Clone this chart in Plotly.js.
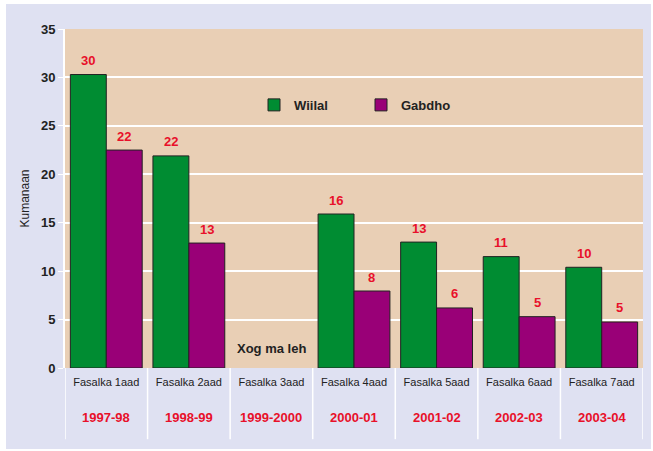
<!DOCTYPE html>
<html><head><meta charset="utf-8">
<script src="https://cdn.plot.ly/plotly-3.0.1.min.js"></script>
<style>html,body{margin:0;padding:0;background:#fff;}#chart{position:absolute;left:6px;top:4px;width:645px;height:445px;}</style>
</head><body><div id="chart"></div>
<script>
var phases = ["Fasalka 1aad","Fasalka 2aad","Fasalka 3aad","Fasalka 4aad","Fasalka 5aad","Fasalka 6aad","Fasalka 7aad"];
var years = ["1997-98","1998-99","1999-2000","2000-01","2001-02","2002-03","2003-04"];
var wiilal = [30.3, 21.9, null, 15.9, 13.0, 11.5, 10.4];
var gabdho = [22.5, 12.9, null, 7.95, 6.2, 5.3, 4.75];
var wiilalLabels = ["30","22","","16","13","11","10"];
var gabdhoLabels = ["22","13","","8","6","5","5"];
var noDataIndex = 2;
var noDataText = "Xog ma leh";

var xs = phases.map(function(_, i){ return i; });
var font = "Arial, 'Liberation Sans', sans-serif";
var red = "#e8102a";
var bargap = 0.13;
var half = (1 - bargap) / 4;

var traces = [
  {type:"bar", name:"Wiilal", x:xs, y:wiilal,
   marker:{color:"#008c32", line:{color:"#222", width:1}}},
  {type:"bar", name:"Gabdho", x:xs, y:gabdho,
   marker:{color:"#990077", line:{color:"#222", width:1}}}
];

var shapes = [];
for (var i = 0; i <= phases.length; i++) {
  shapes.push({type:"line", xref:"x", yref:"paper", x0:i-0.5, x1:i-0.5, y0:0, y1:-0.21,
    line:{color:"#ffffff", width:1.5}});
}
var annotations = years.map(function(yr, i){
  return {xref:"x", yref:"paper", x:i, y:-0.145, text:"<b>"+yr+"</b>", showarrow:false,
    yanchor:"middle", font:{family:font, size:13, color:red}};
});
function addLabels(vals, labels, offset) {
  vals.forEach(function(v, i){
    if (v === null || labels[i] === "") return;
    annotations.push({xref:"x", yref:"y", x:i+offset, y:v, text:"<b>"+labels[i]+"</b>",
      showarrow:false, yanchor:"middle", yshift:14,
      font:{family:font, size:13, color:red}});
  });
}
addLabels(wiilal, wiilalLabels, -half);
addLabels(gabdho, gabdhoLabels, half);
annotations.push({xref:"x", yref:"y", x:noDataIndex, y:2, text:"<b>"+noDataText+"</b>", showarrow:false,
  font:{family:font, size:13, color:"#222"}});

var layout = {
  width:645, height:445,
  margin:{l:59, r:8, t:25, b:81},
  paper_bgcolor:"#dfe1f2", plot_bgcolor:"#e9cfb5",
  barmode:"group", bargap:bargap, bargroupgap:0,
  showlegend:true,
  legend:{orientation:"h", x:0.327, y:0.776, xanchor:"left", yanchor:"middle",
    bgcolor:"rgba(0,0,0,0)", font:{family:font, size:13, color:"#222", weight:"bold"},
    entrywidth:62, entrywidthmode:"pixels", tracegroupgap:0},
  xaxis:{tickvals:xs, ticktext:phases, range:[-0.5, phases.length-0.5],
    tickfont:{family:font, size:11, color:"#222"}, ticks:"", showgrid:false,
    zeroline:false, showline:false, ticklabelstandoff:6},
  yaxis:{range:[0,35], dtick:5, gridcolor:"#ffffff", gridwidth:2,
    tickfont:{family:font, size:13, color:"#222", weight:"bold"},
    showline:true, linecolor:"#ffffff", linewidth:2, ticks:"outside", ticklen:5, tickcolor:"#ffffff",
    zeroline:false,
    title:{text:"Kumanaan", font:{family:font, size:12, color:"#222"}, standoff:9}},
  shapes:shapes, annotations:annotations,
  font:{family:font}
};
Plotly.newPlot("chart", traces, layout, {displayModeBar:false, staticPlot:true});
</script></body></html>
